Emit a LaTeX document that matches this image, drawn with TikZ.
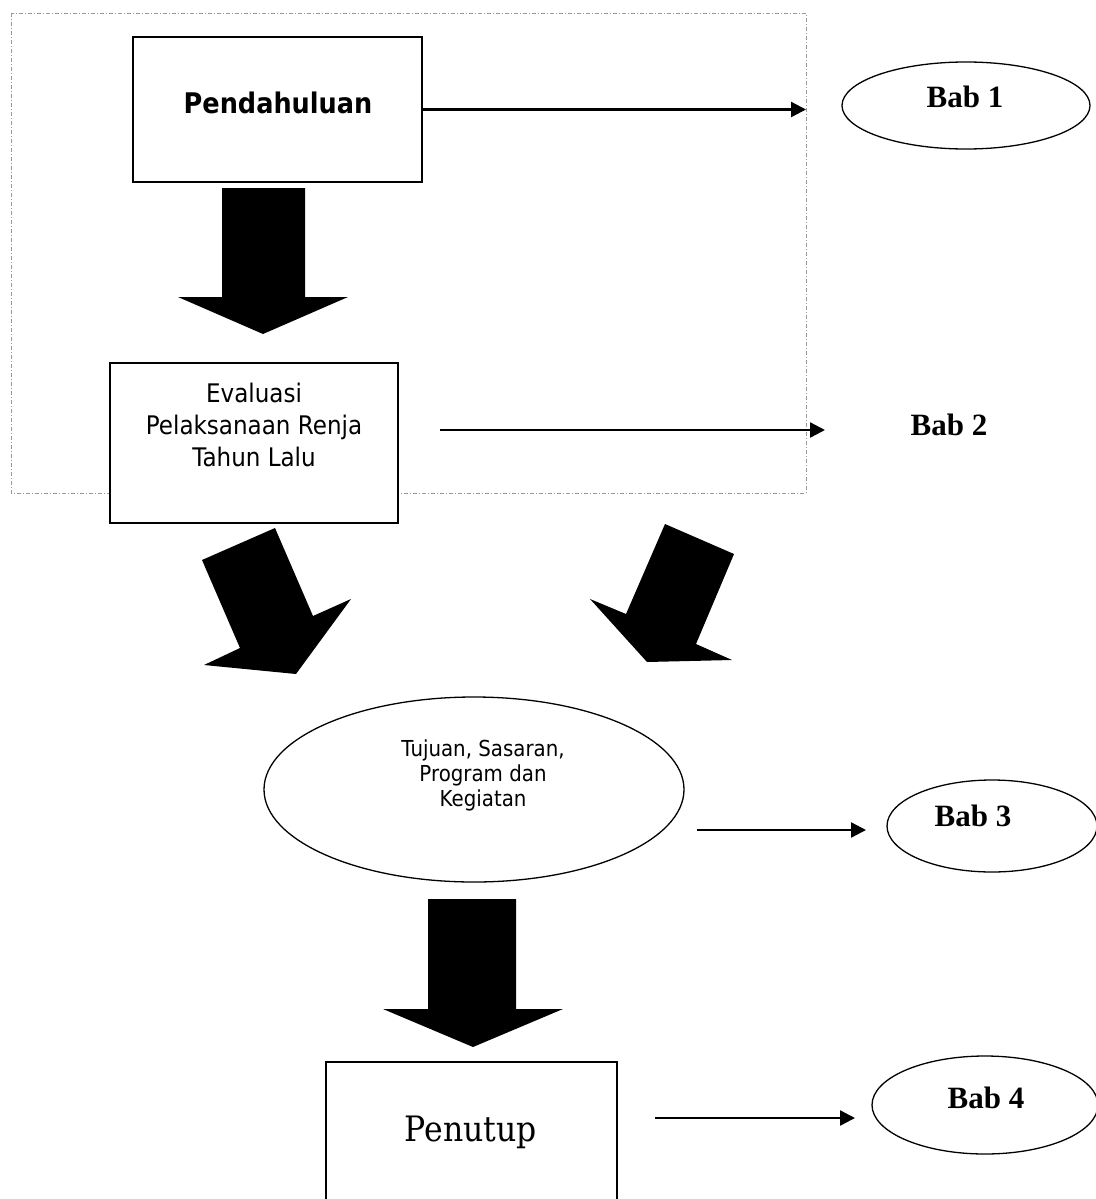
\documentclass[tikz,border=0pt]{standalone}
\usepackage{fontspec}
\setmainfont{Liberation Serif}
\newfontfamily\tahoma[FakeStretch=0.9]{DejaVu Sans}
\newfontfamily\penfont[FakeStretch=0.9]{DejaVu Serif}
\usetikzlibrary{shapes.geometric,arrows.meta}

\tikzset{
  kotak/.style={draw, fill=white, line width=1pt, inner sep=0pt},
  bulat/.style={draw, ellipse, line width=0.65pt, inner sep=0pt},
  teks/.style={inner sep=0pt, align=center},
  babtxt/.style={teks, font=\fontsize{15.5}{18}\selectfont\bfseries},
  panah/.style={line width=1.2pt, -{Triangle[length=7.5pt,width=7.5pt]}},
  blok/.style={fill=black},
  bingkai/.style={draw=gray!80, line width=0.5pt, dash pattern=on 2pt off 1pt on 0.5pt off 1pt}
}

\begin{document}
\begin{tikzpicture}[x=0.5pt,y=-0.5pt]
\useasboundingbox (0,0) rectangle (1096,1199);

%frame
\draw[bingkai] (11,13) rectangle (806,493);

%Pendahuluan
\node[kotak, minimum width=144.5pt, minimum height=72.5pt] (pend) at (277.5,109.5) {};
\node[teks, font={\tahoma\bfseries\fontsize{14.2}{16}\selectfont}] (pendtxt) at (278,103) {Pendahuluan};
\coordinate (b1end) at (806,109.5);
\draw[panah] (pend.east) -- (b1end);
\node[bulat, minimum width=124pt, minimum height=43.5pt] (bab1) at (966,105.5) {};
\node[babtxt] (bab1txt) at (965,97) {Bab 1};

\fill[blok] (222,188) -- (305,188) -- (305,297) -- (348,297) -- (263,334) -- (178,297) -- (222,297) -- cycle;

%Evaluasi
\node[kotak, minimum width=144pt, minimum height=80pt] (eval) at (254,443) {};
\node[teks, font={\tahoma\fontsize{12.8}{16}\selectfont}] (evaltxt) at (254,424.5) {Evaluasi\\Pelaksanaan Renja\\Tahun Lalu};
\coordinate (b2start) at (440,430);
\coordinate (b2end) at (825,430);
\draw[panah] (b2start) -- (b2end);
\node[babtxt] (bab2txt) at (949,425) {Bab 2};

\fill[blok] (202,560) -- (275,528) -- (313,616) -- (351,599) -- (296,674) -- (204,665) -- (240,648) -- cycle;
\fill[blok] (665,524) -- (734,554) -- (696,644) -- (732,660) -- (647,662) -- (590,599) -- (626,614) -- cycle;

%Tujuan
\node[bulat, minimum width=210pt, minimum height=92.5pt] (tuju) at (474,789.5) {};
\node[teks, font={\tahoma\fontsize{11}{12.5}\selectfont}] (tujutxt) at (483,775) {Tujuan, Sasaran,\\Program dan\\Kegiatan};
\coordinate (b3start) at (697,830);
\coordinate (b3end) at (866,830);
\draw[panah] (b3start) -- (b3end);
\node[bulat, minimum width=105pt, minimum height=46pt] (bab3) at (992,826) {};
\node[babtxt] (bab3txt) at (973,816) {Bab 3};

\fill[blok] (428,899) -- (516,899) -- (516,1009) -- (563,1009) -- (473,1047) -- (383,1009) -- (428,1009) -- cycle;

%Penutup
\node[kotak, minimum width=145.5pt, minimum height=74pt] (penu) at (471.5,1136) {};
\node[teks, font={\penfont\fontsize{17.5}{20}\selectfont}] (penutxt) at (471,1132) {Penutup};
\coordinate (b4start) at (655,1118);
\coordinate (b4end) at (855,1118);
\draw[panah] (b4start) -- (b4end);
\node[bulat, minimum width=113pt, minimum height=49pt] (bab4) at (985,1105) {};
\node[babtxt] (bab4txt) at (986,1098) {Bab 4};

\end{tikzpicture}
\end{document}
